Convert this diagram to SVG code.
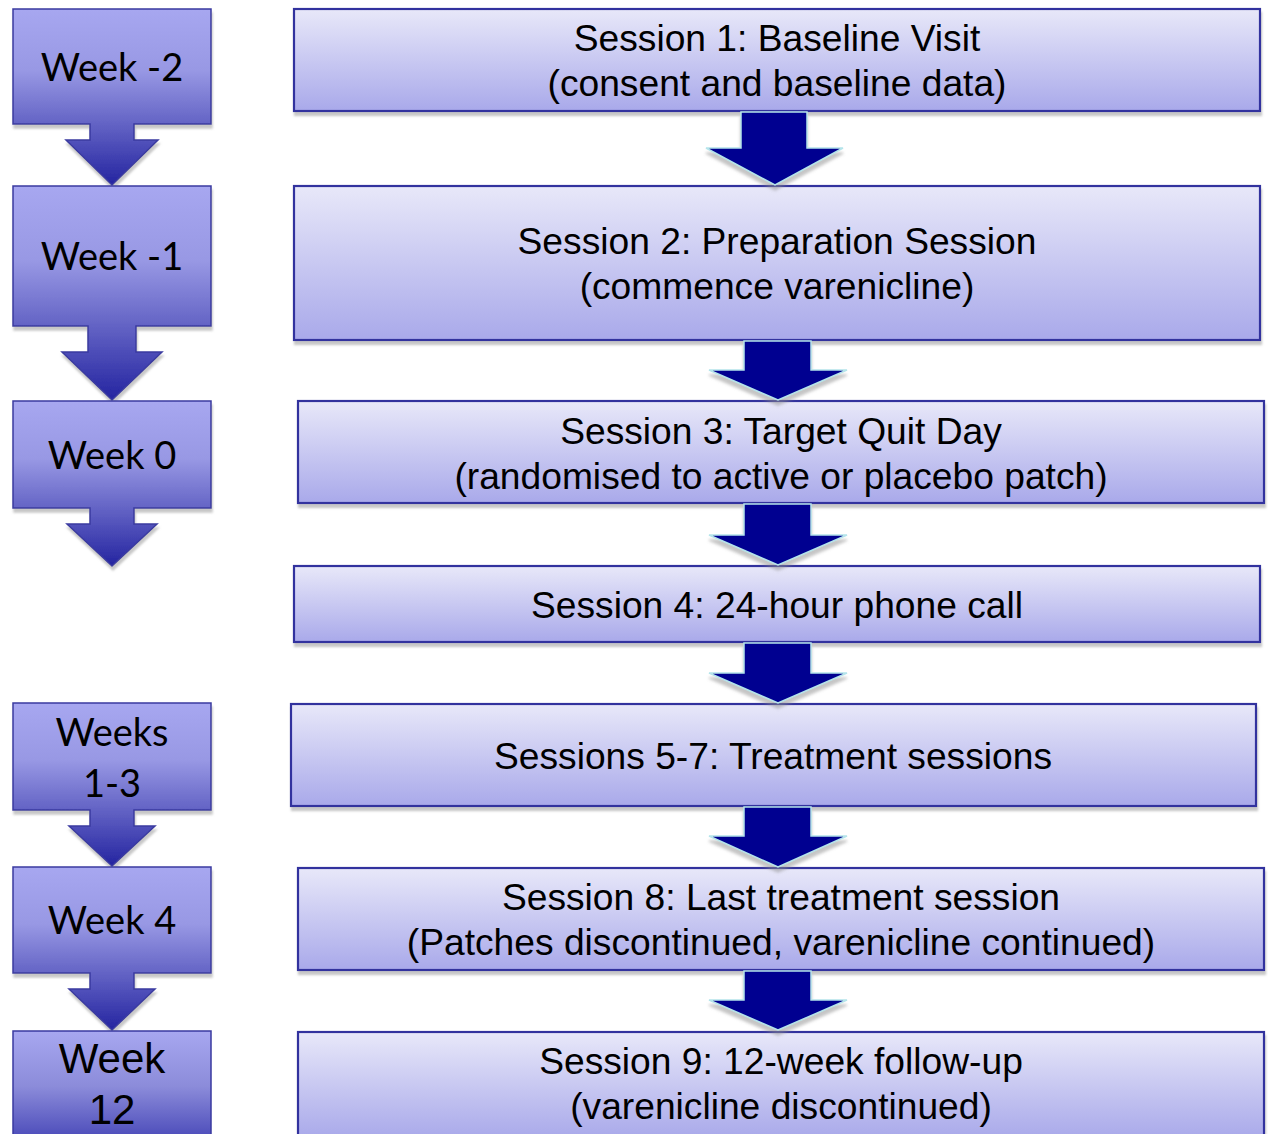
<svg xmlns="http://www.w3.org/2000/svg" width="1268" height="1134" viewBox="0 0 1268 1134">
<defs>
<linearGradient id="gL" x1="0" y1="0" x2="0" y2="1">
<stop offset="0" stop-color="#A7A7F0"/>
<stop offset="0.35" stop-color="#9898E4"/>
<stop offset="0.66" stop-color="#6262C4"/>
<stop offset="1" stop-color="#2424A0"/>
</linearGradient>
<linearGradient id="gL12" x1="0" y1="0" x2="0" y2="1">
<stop offset="0" stop-color="#A7A7F0"/>
<stop offset="0.5" stop-color="#8C8CDA"/>
<stop offset="1" stop-color="#4848B8"/>
</linearGradient>
<linearGradient id="gR" x1="0" y1="0" x2="0" y2="1">
<stop offset="0" stop-color="#E8E8F9"/>
<stop offset="1" stop-color="#A9A9EA"/>
</linearGradient>
<filter id="sh" x="-10%" y="-10%" width="130%" height="130%">
<feGaussianBlur in="SourceAlpha" stdDeviation="1.2"/>
<feOffset dx="1" dy="4" result="o"/>
<feFlood flood-color="#9A9A9A" flood-opacity="0.55"/>
<feComposite in2="o" operator="in"/>
<feMerge><feMergeNode/><feMergeNode in="SourceGraphic"/></feMerge>
</filter>
<filter id="sha" x="-20%" y="-20%" width="140%" height="150%">
<feGaussianBlur in="SourceAlpha" stdDeviation="1.5"/>
<feOffset dx="0" dy="5" result="o"/>
<feFlood flood-color="#8C8C8C" flood-opacity="0.5"/>
<feComposite in2="o" operator="in"/>
<feMerge><feMergeNode/><feMergeNode in="SourceGraphic"/></feMerge>
</filter>
</defs>
<style>
.lb{fill:url(#gL);stroke:#3A3AA0;stroke-width:1.5;filter:url(#sh)}
.rb{fill:url(#gR);stroke:#32329E;stroke-width:2.2;filter:url(#sh)}
.ar{fill:#000090;stroke:#B4E4EA;stroke-width:1.5;filter:url(#sha)}
.lt{font-family:Lato,"Open Sans",sans-serif;font-size:38px;fill:#000;text-anchor:middle}
.lt2{font-family:"Liberation Sans",Arial,sans-serif;font-size:42px;fill:#000;text-anchor:middle}
.rt{font-family:"Liberation Sans",Arial,sans-serif;font-size:37.2px;fill:#000;text-anchor:middle}
</style>
<rect width="1268" height="1134" fill="#fff"/>
<g id="week-2"><path class="lb" d="M13,9H211V124H134V140H158L112,185L66,140H90V124H13Z"/><text class="lt" x="112" y="81">Week -2</text></g>
<g id="week-1"><path class="lb" d="M13,186H211V326H136V352H162L112,400L62,352H88V326H13Z"/><text class="lt" x="112" y="270">Week -1</text></g>
<g id="week0"><path class="lb" d="M13,401H211V508H134V524H157L112,566L67,524H90V508H13Z"/><text class="lt" x="112" y="469">Week 0</text></g>
<g id="weeks1-3"><path class="lb" d="M13,703H211V810H134V826H155L112,866L69,826H90V810H13Z"/><text class="lt" x="112" y="746">Weeks</text><text class="lt" x="112" y="797">1-3</text></g>
<g id="week4"><path class="lb" d="M13,867H211V973H134V989H155L112,1030L69,989H90V973H13Z"/><text class="lt" x="112" y="934">Week 4</text></g>
<g id="week12"><rect x="13" y="1031" width="198" height="110" style="fill:url(#gL12);stroke:#3A3AA0;stroke-width:1.5"/><text class="lt2" x="112" y="1073">Week</text><text class="lt2" x="112" y="1124">12</text></g>

<g id="s1"><rect class="rb" x="294" y="9" width="966" height="102"/><text class="rt" x="777" y="51">Session 1: Baseline Visit</text><text class="rt" x="777" y="96">(consent and baseline data)</text></g>
<g id="s2"><rect class="rb" x="294" y="186" width="966" height="154"/><text class="rt" x="777" y="254">Session 2: Preparation Session</text><text class="rt" x="777" y="299">(commence varenicline)</text></g>
<g id="s3"><rect class="rb" x="298" y="401" width="966" height="102"/><text class="rt" x="781" y="444">Session 3: Target Quit Day</text><text class="rt" x="781" y="489">(randomised to active or placebo patch)</text></g>
<g id="s4"><rect class="rb" x="294" y="566" width="966" height="76"/><text class="rt" x="777" y="618">Session 4: 24-hour phone call</text></g>
<g id="s5"><rect class="rb" x="291" y="704" width="965" height="102"/><text class="rt" x="773" y="769">Sessions 5-7: Treatment sessions</text></g>
<g id="s6"><rect class="rb" x="298" y="868" width="966" height="102"/><text class="rt" x="781" y="910">Session 8: Last treatment session</text><text class="rt" x="781" y="955">(Patches discontinued, varenicline continued)</text></g>
<g id="s7"><rect class="rb" x="298" y="1032" width="966" height="106"/><text class="rt" x="781" y="1074">Session 9: 12-week follow-up</text><text class="rt" x="781" y="1119">(varenicline discontinued)</text></g>

<g id="connectors">
<path class="ar" d="M741,112H807V148H843L775,185L706,148H741Z"/>
<path class="ar" d="M744,341H811V370H847L778,400L709,370H744Z"/>
<path class="ar" d="M744,504H811V535H847L778,565L709,535H744Z"/>
<path class="ar" d="M744,643H811V673H847L778,703L709,673H744Z"/>
<path class="ar" d="M744,807H811V836H847L778,867L709,836H744Z"/>
<path class="ar" d="M744,971H811V1000H847L778,1030L709,1000H744Z"/>
</g>
</svg>
